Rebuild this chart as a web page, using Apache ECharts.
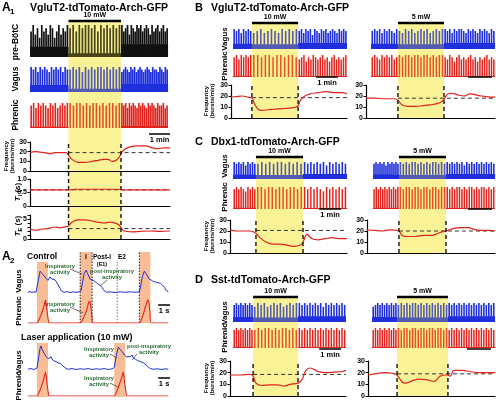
<!DOCTYPE html>
<html><head><meta charset="utf-8">
<script src="https://cdn.jsdelivr.net/npm/echarts@6/dist/echarts.min.js"></script>
<style>html,body{margin:0;padding:0;background:#fff}#c{width:496px;height:400px}</style>
</head><body><div id="c"></div>
<script>
// ================= DATA (time in minutes for A1-D, seconds for A2) =================
// ---- A1 ----
const a1Win = [0, 6.54], a1Trace = [0, 6.45], a1Laser = [1.8, 4.25], a1Scale = [5.56, 6.54];
const a1PreCtrl = [8,10,7,9,6,10,8,9,7,10,9,6,8,10,7,9,8,10];
const a1PreLaser = [9,10,8,10,9,10,10,9,10,8,10,9,10,9,10,9,10];
const a1PrePost = [10,8,9,10,7,10,9,8,10,9,10,8,9,10,9,7,10,8,9,10,8,9,10,8,9];
const a1VagCtrl = [10,9,10,8,10,9,10,9,8,10,9,10,9,10,8,10,9];
const a1VagLaser = [9,10,9,10,8,10,9,10,9,10,10,9,10,9,10,9,10];
const a1VagPost = [8,9,10,9,8,10,9,10,8,9,10,9,8,9,10,9,8,10,9,9,8,10,9,8,10,9];
const a1PhrCtrl = [9,10,8,10,9,10,9,8,10,9,10,8,9,10,9,10];
const a1PhrLaser = [10,9,10,10,9,10,9,10,10,9,10,9,10,10,9,10];
const a1PhrPost = [10,9,10,8,10,9,10,9,8,10,9,10,9,8,10,9,10,9,8,10,9,9,10,8,9];
// tonic floor level of each trace (control, laser, post), same 0-10 scale
const a1PreFloor = [3.2, 1.2, 4], a1VagFloor = [2.8, 1.3, 3.2], a1PhrFloor = [0.5, 0, 0.8];
const a1Freq = [[0,19],[0.23,20],[0.47,19.5],[0.7,19],[0.93,18],[1.17,19],[1.4,19],[1.68,19],[1.78,17],[1.96,12],[2.24,9],[2.57,9],[2.9,10],[3.18,11],[3.46,12],[3.64,12],[3.83,10],[4.02,11],[4.16,14],[4.25,18],[4.39,22],[4.67,25],[5.05,26],[5.42,26],[5.7,24],[5.98,23],[6.26,24],[6.54,24]];
const a1FreqBase = 19;
const a1Ti = [[0,0.6],[1.8,0.6],[2.1,0.62],[4.1,0.62],[4.3,0.6],[6.54,0.6]];
const a1TiBase = 0.6;
const a1Te = [[0,2.5],[0.28,2.2],[0.56,2.5],[0.84,2.6],[1.12,3.0],[1.4,2.8],[1.68,3.1],[1.78,3.2],[1.96,4.2],[2.24,4.8],[2.57,4.8],[2.9,4.5],[3.18,4.2],[3.46,4.0],[3.74,4.2],[4.02,3.9],[4.16,3.5],[4.25,2.8],[4.39,2.0],[4.77,1.8],[5.14,1.9],[5.61,2.0],[6.07,1.9],[6.54,2.0]];
const a1TeBase = 2.6;
const freqTicks = {min:0, max:30, interval:10};
const tiTicks = {min:0, max:1, interval:0.5};
const teTicks = {min:0, max:6, interval:1};

// ---- B ----
const bLWin=[0,5.27], bLTrace=[0.09,5.27], bLLaser=[0.95,3.05], bLScale=[3.86,4.86];
const bRWin=[0,5.375], bRTrace=[0.21,5.375], bRLaser=[1.33,3.25], bRScale=[4.25,5.25];
const bLVagCtrl=[10,9,10,8,10,9,10,9];
const bLVagLaser=[8,9,10,8,9,10,9,8,10,9,10,9,10];
const bLVagPost=[9,10,8,10,9,10,7,10,9,8,10,9,10,8,9,10,9,8,10,9,10,9];
const bLPhrCtrl=[9,10,8,10,9,10,9,10];
const bLPhrLaser=[10,10,9,10,10,9,10,10,9,10,10,9];
const bLPhrPost=[8,9,10,7,9,8,10,9,8,9,10,8,9,7,9,10,8,9,8,9,10];
const bRVagCtrl=[9,10,9,10,8,10,9,10,9,8,10];
const bRVagLaser=[9,8,10,9,10,8,9,10,9,10,8,9,10,9,10];
const bRVagPost=[10,9,10,8,10,9,10,10,9,8,10,9,10,9,8,10,9,10,9,8,10,9];
const bRPhrCtrl=[9,10,9,8,10,9,10,9,10,8,9];
const bRPhrLaser=[10,9,10,10,9,10,10,9,10,10,9,10,9,10,10];
const bRPhrPost=[9,8,10,9,7,9,10,8,9,8,9,10,8,9,7,9,8,9,10,8,9,8];
const bLFreq=[[0,19],[0.23,19.5],[0.5,20],[0.77,19],[0.95,18],[1.09,12],[1.23,8],[1.41,7],[1.68,7.5],[2.0,8],[2.32,8.5],[2.68,9],[2.95,10],[3.05,11],[3.18,17],[3.36,20],[3.59,22],[3.95,23],[4.32,24],[4.68,23],[5.05,23],[5.27,22]];
const bLBase=18.5;
const bRFreq=[[0,18],[0.38,18],[0.79,17.5],[1.21,17.5],[1.33,16],[1.5,12],[1.75,10.5],[2.04,10.5],[2.33,11],[2.67,12],[2.96,13],[3.17,15],[3.25,17],[3.42,22],[3.58,22.5],[3.83,21],[4.08,20],[4.33,22],[4.58,21],[4.83,20],[5.17,19],[5.375,19]];
const bRBase=18;

// ---- C ----
const cLWin=[0,5.32], cLTrace=[0.14,5.32], cLLaser=[1.18,3.32], cLScale=[4.05,5.05];
const cRWin=[0,5.33], cRTrace=[0.25,5.33], cRLaser=[1.33,3.29], cRScale=[4.21,5.21];
const cLVagCtrl=[10,9,10,9,10,8,10,9,10,9];
const cLVagLaser=[9,10,9,10,9,10,10,9,10,9,10,9];
const cLVagPost=[10,9,10,9,10,9,10,8,10,9,10,9,10,9];
const cLPhrCtrl=[9,10,9,10,9,8,10,9,10,9];
const cLPhrLaser=[10,10,9,10,10,9,10,10,9,10,10,9,10];
const cLPhrPost=[10,9,10,9,10,9,8,10,9,10,9,10,9,10];
const cRVagCtrl=[9,10,9,10,9,10,8,10,9,10,9,10,9];
const cRVagLaser=[10,9,10,9,10,10,9,10,9,10,9,10,10,9,10,9];
const cRVagPost=[10,9,10,9,10,9,10,8,10,9,10,9,10,9,10,9,10,9,10,9];
const cRPhrCtrl=[9,10,9,10,9,10,9,10,9,10,9,10];
const cRPhrLaser=[10,9,10,10,9,10,10,9,10,10,9,10,10,9,10,10];
const cRPhrPost=[10,9,10,9,10,10,9,10,9,10,10,9,10,9,10,10,9,10,9,10];
const cLFreq=[[0,21],[0.27,20],[0.64,20],[0.91,20],[1.18,18],[1.36,14],[1.64,10],[1.91,8],[2.27,8],[2.64,7],[2.91,6],[3.18,7],[3.32,10],[3.5,17],[3.73,13],[4.0,12],[4.32,13],[4.64,14],[5.0,13],[5.32,13]];
const cLBase=20.5;
const cRFreq=[[0,21],[0.33,20.5],[0.63,20],[0.96,21],[1.33,20],[1.46,16],[1.71,15],[2.0,15],[2.33,16],[2.71,16],[2.96,18],[3.17,19.5],[3.29,20],[3.54,22],[3.88,23],[4.21,23],[4.54,21],[4.88,20.5],[5.13,20.5],[5.33,20]];
const cRBase=20;

// ---- D ----
const dLWin=[0,5.27], dLTrace=[0.14,5.27], dLLaser=[1.05,3.09], dLScale=[4.05,5.05];
const dRWin=[0,5.29], dRTrace=[0.17,5.29], dRLaser=[1.21,3.33], dRScale=[4.12,5.12];
const dLVagCtrl=[9,10,9,10,9,10,9,10,9];
const dLVagLaser=[8,10,9,10,8,9,10,9,10,8,9,10,9,10];
const dLVagPost=[10,9,10,9,10,9,10,9,10,8,10,9,10,9,10,9,10,9];
const dLPhrCtrl=[9,10,9,10,9,10,9,10,9];
const dLPhrLaser=[9,10,9,10,10,9,10,9,10,10,9,10,9];
const dLPhrPost=[10,9,10,9,10,9,10,9,10,9,10,9,10,9,10,9,10,9];
const dRVagCtrl=[8,9,10,9,10,9,10,9,10,9,10];
const dRVagLaser=[9,10,9,10,9,10,10,9,10,9,10,9,10,9,10,9,10,9];
const dRVagPost=[10,9,10,9,10,9,10,9,10,9,10,9,10,9,10,9,10,9,10];
const dRPhrCtrl=[9,10,9,10,9,10,9,10,9,10,9];
const dRPhrLaser=[10,9,10,10,9,10,10,9,10,10,9,10,10,9,10,10,9,10];
const dRPhrPost=[9,10,9,10,9,10,9,10,9,10,9,10,9,10,9,10,9,10,9];
const dLFreq=[[0,18],[0.45,18],[0.91,18.5],[1.05,17],[1.18,11],[1.45,9],[1.82,9.5],[2.18,9.5],[2.45,8.5],[2.73,10],[3.09,11],[3.27,14],[3.45,22],[3.64,24],[4.0,21],[4.36,20],[4.73,20.5],[5.09,21],[5.27,22]];
const dLBase=18.5;
const dRFreq=[[0,18],[0.29,19],[0.71,20],[1.0,19.5],[1.21,18],[1.42,12],[1.58,11],[1.83,13],[2.17,14.5],[2.42,14],[2.75,12.5],[3.0,17],[3.25,18],[3.33,18],[3.42,17],[3.58,22],[3.92,22],[4.25,21],[4.58,20],[4.92,20],[5.29,20]];
const dRBase=19;
// tonic floor of vagus / phrenic traces in panels B-D (control, laser, post)
const bcdVagFloor = [2.6, 2.4, 3], bcdPhrFloor = [0.5, 0, 0.5];

// ---- A2 (seconds) ----
const a2Win=[0,12], a2Scale=[11.0,12.0];
const a2CtrlVagus=[[0,0.03],[0.17,0.06],[0.34,0.02],[0.51,0.05],[0.68,0.03],[0.76,0.1],[0.89,0.6],[1.02,0.95],[1.1,1.0],[1.19,0.85],[1.27,0.92],[1.36,0.75],[1.44,0.7],[1.53,0.64],[1.61,0.6],[1.69,0.55],[1.78,0.62],[1.86,0.7],[1.95,0.62],[2.03,0.6],[2.12,0.57],[2.2,0.6],[2.29,0.54],[2.37,0.52],[2.46,0.5],[2.54,0.36],[2.63,0.28],[2.71,0.2],[2.8,0.1],[2.88,0.05],[3.05,0.03],[3.31,0.06],[3.56,0.02],[3.81,0.05],[4.07,0.03],[4.32,0.05],[4.49,0.1],[4.62,0.5],[4.75,0.85],[4.92,1.0],[5.0,0.9],[5.08,0.8],[5.17,0.7],[5.25,0.6],[5.33,0.62],[5.42,0.58],[5.59,0.52],[5.76,0.46],[5.85,0.42],[5.93,0.38],[6.1,0.33],[6.27,0.25],[6.35,0.15],[6.44,0.08],[6.61,0.03],[6.95,0.05],[7.37,0.02],[7.8,0.05],[8.22,0.03],[8.64,0.05],[9.07,0.03],[9.41,0.05],[9.49,0.2],[9.66,0.7],[9.83,0.95],[9.92,0.9],[10.0,0.82],[10.08,0.75],[10.25,0.6],[10.42,0.56],[10.59,0.5],[10.72,0.5],[10.85,0.47],[11.02,0.45],[11.19,0.42],[11.36,0.35],[11.53,0.25],[11.69,0.1],[11.86,0.05]];
const a2CtrlPhrenic=[[0,0],[0.76,0],[0.93,0.15],[1.1,0.35],[1.27,0.6],[1.4,0.85],[1.48,1.0],[1.61,0.5],[1.74,0.05],[1.78,0],[4.41,0],[4.58,0.1],[4.75,0.3],[4.92,0.5],[5.08,0.8],[5.17,0.95],[5.25,0.9],[5.38,0.4],[5.51,0],[9.41,0],[9.58,0.15],[9.75,0.4],[9.92,0.7],[10.08,0.95],[10.17,1.0],[10.3,0.5],[10.42,0],[11.86,0]];
const a2CtrlInsp=[[0.76,1.69,0.86],[4.41,5.42,1],[9.41,10.34,1]];
const a2CtrlPhaseLines=[4.41,5.42,9.41];
const a2CtrlE1E2=7.54;
const a2LaserVagus=[[0,0.03],[0.25,0.06],[0.5,0.02],[0.76,0.08],[0.89,0.5],[1.02,0.9],[1.1,1.0],[1.19,0.85],[1.28,0.78],[1.36,0.7],[1.44,0.62],[1.53,0.56],[1.61,0.5],[1.7,0.47],[1.78,0.45],[1.86,0.5],[1.95,0.55],[2.03,0.45],[2.12,0.42],[2.2,0.38],[2.37,0.35],[2.54,0.3],[2.71,0.28],[2.88,0.2],[3.05,0.12],[3.22,0.06],[3.39,0.03],[3.73,0.06],[4.07,0.02],[4.41,0.05],[4.75,0.03],[5.08,0.06],[5.42,0.02],[5.76,0.05],[6.1,0.03],[6.44,0.06],[6.78,0.02],[7.12,0.05],[7.29,0.1],[7.46,0.6],[7.63,0.95],[7.71,1.0],[7.8,0.85],[7.97,0.75],[8.14,0.62],[8.31,0.55],[8.47,0.5],[8.64,0.55],[8.81,0.62],[8.9,0.5],[9.07,0.45],[9.24,0.4],[9.49,0.35],[9.75,0.3],[10.0,0.2],[10.17,0.12],[10.34,0.06],[10.59,0.03],[10.93,0.05],[11.27,0.02],[11.61,0.05],[11.86,0.03]];
const a2LaserPhrenic=[[0,0],[0.76,0],[0.93,0.15],[1.1,0.35],[1.27,0.6],[1.4,0.85],[1.48,1.0],[1.61,0.5],[1.74,0.05],[1.78,0],[7.29,0],[7.46,0.15],[7.63,0.35],[7.8,0.6],[7.97,0.85],[8.05,1.0],[8.18,0.5],[8.31,0.05],[8.35,0],[11.86,0]];
const a2LaserInsp=[[0.76,1.69,1],[7.29,8.22,1]];

// ================= RENDERING =================
const FONT = 'Liberation Sans';
const BLUE = '#1f2fdc', RED = '#e2231d', BLACK = '#111';
const grid=[], xAxis=[], yAxis=[], series=[], graphic=[], barLabels=[];
function addGrid(left, top, width, height, xa, ya){
  const i = grid.length;
  grid.push({left, top, width, height, containLabel:false});
  xAxis.push(Object.assign({gridIndex:i, show:false}, xa));
  yAxis.push(Object.assign({gridIndex:i, show:false}, ya));
  return i;
}
function px(col, t){ return col.x0 + (t - col.win[0]) * (col.x1 - col.x0) / (col.win[1] - col.win[0]); }

function traceRow(col, trace, laser, segs, floors, top, h, color, bw){
  const bounds = [[trace[0], laser[0]], [laser[0], laser[1]], [laser[1], trace[1]]];
  segs.forEach((amps, k) => {
    const l = px(col, bounds[k][0]), r = px(col, bounds[k][1]);
    const gi = addGrid(l, top, r - l, h,
      {type:'category', data:amps.map((_, i) => i), boundaryGap:true},
      {type:'value', min:0, max:10});
    series.push({type:'bar', xAxisIndex:gi, yAxisIndex:gi, data:amps, barWidth:bw,
      itemStyle:{color}, z:1, silent:true});
    if (floors[k] > 0) {
      series.push({type:'custom', xAxisIndex:gi, yAxisIndex:gi, z:1, silent:true,
        data:[[0, amps.length - 1, floors[k]]],
        renderItem:(p, api) => {
          const half = api.size([1, 0])[0] / 2;
          const a = api.coord([api.value(0), api.value(2)]), b = api.coord([api.value(1), 0]);
          return {type:'rect', shape:{x:a[0]-half, y:a[1], width:b[0]-a[0]+2*half, height:b[1]-a[1]}, style:{fill:color}};
        }});
    }
  });
}
function rectSeries(gi, data, fill, opacity, z){
  return {type:'custom', xAxisIndex:gi, yAxisIndex:gi, z, silent:true, data,
    renderItem:(p, api) => {
      const a = api.coord([api.value(0), api.value(2)]), b = api.coord([api.value(1), 0]);
      return {type:'rect', shape:{x:a[0], y:a[1], width:b[0]-a[0], height:b[1]-a[1]}, style:{fill, opacity}};
    }};
}
function yellow(col, laser, top, bottom){
  const gi = addGrid(col.x0, top, col.x1 - col.x0, bottom - top,
    {type:'value', min:col.win[0], max:col.win[1]}, {type:'value', min:0, max:1});
  series.push(rectSeries(gi, [[laser[0], laser[1], 1]], '#fcf8b8', 1, 0));
  series.push(rectSeries(gi, [[laser[0], laser[1], 1]], '#f0e030', 0.25, 3));
}
function vDash(col, laser, top, bottom){
  const gi = addGrid(col.x0, top, col.x1 - col.x0, bottom - top,
    {type:'value', min:col.win[0], max:col.win[1]}, {type:'value', min:0, max:1});
  laser.forEach(t => series.push({type:'line', xAxisIndex:gi, yAxisIndex:gi, data:[[t,0],[t,1]],
    symbol:'none', silent:true, z:7, lineStyle:{color:'#111', width:1.4, type:[4,3]}}));
}
function hBar(col, range, y, width, text, below, size){
  const gi = addGrid(col.x0, y - 1, col.x1 - col.x0, 2,
    {type:'value', min:col.win[0], max:col.win[1]}, {type:'value', min:0, max:1});
  series.push({type:'line', xAxisIndex:gi, yAxisIndex:gi, data:[[range[0],0.5],[range[1],0.5]], symbol:'none', z:8, silent:true,
    lineStyle:{color:'#000', width}});
  if (text) barLabels.push({gi, at:[(range[0] + range[1]) / 2, 0.5], text, below, size});
}
function plot(col, top, h, ticks, fmt, curve, base, baseFrom){
  const gi = addGrid(col.x0, top, col.x1 - col.x0, h,
    {type:'value', min:col.win[0], max:col.win[1], show:true, axisLine:{show:true, onZero:false, lineStyle:{color:'#000', width:1.2}},
     axisTick:{show:false}, axisLabel:{show:false}, splitLine:{show:false}, z:6},
    {type:'value', min:ticks.min, max:ticks.max, interval:ticks.interval, show:true,
     axisLine:{show:true, lineStyle:{color:'#000', width:1.2}}, axisTick:{show:true, length:2.5, lineStyle:{width:1}},
     axisLabel:{fontSize:7, fontWeight:'bold', fontFamily:FONT, color:'#000', margin:3, formatter:fmt}, splitLine:{show:false}, z:6});
  series.push({type:'line', xAxisIndex:gi, yAxisIndex:gi, data:[[baseFrom, base],[col.win[1], base]], symbol:'none', silent:true, z:5,
    lineStyle:{color:'#333', width:1, type:[4,3]}});
  series.push({type:'line', xAxisIndex:gi, yAxisIndex:gi, data:curve, smooth:0.35, symbol:'none', silent:true, z:6,
    lineStyle:{color:RED, width:1.2}});
}
function txt(x, y, text, o){
  o = o || {};
  graphic.push({type:'text', x, y, rotation:o.rot||0, z:100, silent:true,
    style:{text, fill:o.color||'#000', fontSize:o.size||8, fontWeight:o.w||'bold', fontFamily:FONT,
      align:o.align||'left', verticalAlign:o.va||'top', lineHeight:o.lh, rich:o.rich}});
}
function rtxt(cx, cy, text, size, rich){ txt(cx, cy, text, {rot:Math.PI/2, align:'center', va:'middle', size, rich}); }
function gline(x1,y1,x2,y2){ graphic.push({type:'line', z:100, silent:true, shape:{x1,y1,x2,y2}, style:{stroke:'#333', lineWidth:0.7}}); }

const fFmt = v => String(v);
// ---------- A1 ----------
const A1 = {x0:30, x1:170, win:a1Win};
yellow(A1, a1Laser, 22, 240);
traceRow(A1, a1Trace, a1Laser, [a1PreCtrl, a1PreLaser, a1PrePost], a1PreFloor, 25, 32, BLACK, 1.7);
traceRow(A1, a1Trace, a1Laser, [a1VagCtrl, a1VagLaser, a1VagPost], a1VagFloor, 67, 25, BLUE, 1.7);
traceRow(A1, a1Trace, a1Laser, [a1PhrCtrl, a1PhrLaser, a1PhrPost], a1PhrFloor, 103, 25, RED, 1.6);
hBar(A1, a1Laser, 21, 2.5, '10 mW', false, 7);
hBar(A1, a1Scale, 134, 1.5, '1 min', true, 7.5);
plot(A1, 142, 29, freqTicks, fFmt, a1Freq, a1FreqBase, a1Laser[0]);
plot(A1, 179, 27, tiTicks, v => v === 1 ? '1.0' : String(v), a1Ti, a1TiBase, 0);
plot(A1, 215, 24, teTicks, v => (v === 0 || v === 5) ? String(v) : '', a1Te, a1TeBase, a1Laser[0]);
vDash(A1, a1Laser, 141, 239);

// ---------- B, C, D ----------
function panel(col, trace, laser, scale, mw, segs, freq, base, y){
  yellow(col, laser, y.yt, y.yb);
  traceRow(col, trace, laser, segs[0], bcdVagFloor, y.vt, y.vh, BLUE, 1.6);
  traceRow(col, trace, laser, segs[1], bcdPhrFloor, y.pt, y.ph, RED, 1.5);
  hBar(col, laser, y.lb, 2.5, mw, false, 7);
  hBar(col, scale, y.sb, 1.5, col.scaleText, true, 7.5);
  plot(col, y.ft, y.fh, freqTicks, fFmt, freq, base, laser[0]);
  vDash(col, laser, y.ft, y.ft + y.fh);
}
const yB = {yt:24, yb:118, vt:29, vh:20, pt:55, ph:22, lb:23, sb:77, ft:85, fh:33};
const yC = {yt:158, yb:253, vt:162, vh:17, pt:187, ph:22, lb:157, sb:209, ft:220, fh:33};
const yD = {yt:298, yb:396, vt:303, vh:19, pt:328, ph:20, lb:297, sb:349, ft:361, fh:35};
panel({x0:231, x1:347, win:bLWin, scaleText:'1 min'}, bLTrace, bLLaser, bLScale, '10 mW',
  [[bLVagCtrl,bLVagLaser,bLVagPost],[bLPhrCtrl,bLPhrLaser,bLPhrPost]], bLFreq, bLBase, yB);
panel({x0:366, x1:495, win:bRWin, scaleText:''}, bRTrace, bRLaser, bRScale, '5 mW',
  [[bRVagCtrl,bRVagLaser,bRVagPost],[bRPhrCtrl,bRPhrLaser,bRPhrPost]], bRFreq, bRBase, yB);
panel({x0:230, x1:347, win:cLWin, scaleText:'1 min'}, cLTrace, cLLaser, cLScale, '10 mW',
  [[cLVagCtrl,cLVagLaser,cLVagPost],[cLPhrCtrl,cLPhrLaser,cLPhrPost]], cLFreq, cLBase, yC);
panel({x0:367, x1:495, win:cRWin, scaleText:''}, cRTrace, cRLaser, cRScale, '5 mW',
  [[cRVagCtrl,cRVagLaser,cRVagPost],[cRPhrCtrl,cRPhrLaser,cRPhrPost]], cRFreq, cRBase, yC);
panel({x0:230, x1:346, win:dLWin, scaleText:'1 min'}, dLTrace, dLLaser, dLScale, '10 mW',
  [[dLVagCtrl,dLVagLaser,dLVagPost],[dLPhrCtrl,dLPhrLaser,dLPhrPost]], dLFreq, dLBase, yD);
panel({x0:368, x1:495, win:dRWin, scaleText:''}, dRTrace, dRLaser, dRScale, '5 mW',
  [[dRVagCtrl,dRVagLaser,dRVagPost],[dRPhrCtrl,dRPhrLaser,dRPhrPost]], dRFreq, dRBase, yD);

// ---------- A2 ----------
const A2 = {x0:28, x1:170, win:a2Win};
function a2Grid(top, h, ymax){ return addGrid(A2.x0, top, A2.x1 - A2.x0, h, {type:'value', min:a2Win[0], max:a2Win[1]}, {type:'value', min:0, max:ymax}); }
let g = a2Grid(252, 71, 1);
series.push(rectSeries(g, a2CtrlInsp, '#f8bd95', 1, 0));
a2CtrlPhaseLines.forEach(t => series.push({type:'line', xAxisIndex:g, yAxisIndex:g, data:[[t,0],[t,1]], symbol:'none', silent:true, z:3, lineStyle:{color:'#222', width:1, type:[1.5,1.5]}}));
series.push({type:'line', xAxisIndex:g, yAxisIndex:g, data:[[a2CtrlE1E2,0],[a2CtrlE1E2,0.86]], symbol:'none', silent:true, z:3, lineStyle:{color:'#777', width:1, type:[1.5,1.5]}});
g = a2Grid(268, 25, 1.09);
series.push({type:'line', xAxisIndex:g, yAxisIndex:g, data:a2CtrlVagus, symbol:'none', silent:true, z:4, lineStyle:{color:BLUE, width:1}});
g = a2Grid(298, 25, 1.09);
series.push({type:'line', xAxisIndex:g, yAxisIndex:g, data:a2CtrlPhrenic, symbol:'none', smooth:0.2, silent:true, z:4, lineStyle:{color:RED, width:1.1}});
g = a2Grid(343, 54, 1);
series.push(rectSeries(g, a2LaserInsp, '#f8bd95', 1, 0));
g = a2Grid(344, 26, 1.08);
series.push({type:'line', xAxisIndex:g, yAxisIndex:g, data:a2LaserVagus, symbol:'none', silent:true, z:4, lineStyle:{color:BLUE, width:1}});
g = a2Grid(370, 26, 1.08);
series.push({type:'line', xAxisIndex:g, yAxisIndex:g, data:a2LaserPhrenic, symbol:'none', smooth:0.2, silent:true, z:4, lineStyle:{color:RED, width:1.1}});
hBar(A2, a2Scale, 305, 1.5, '1 s', true, 7.5);
hBar(A2, a2Scale, 378, 1.5, '1 s', true, 7.5);

// ---------- TEXT ----------
txt(2, 2, 'A', {size:12}); txt(10, 8, '1', {size:8}); txt(30, 3, 'VgluT2-tdTomato-Arch-GFP', {size:10.5});
txt(195, 2, 'B', {size:11}); txt(211, 3, 'VgluT2-tdTomato-Arch-GFP', {size:10.5});
txt(195, 136, 'C', {size:11}); txt(211, 137, 'Dbx1-tdTomato-Arch-GFP', {size:10.5});
txt(195, 274, 'D', {size:11}); txt(211, 275, 'Sst-tdTomato-Arch-GFP', {size:10.5});
rtxt(16, 42, 'pre-BötC', 8.5); rtxt(16, 79, 'Vagus', 8.5); rtxt(16, 115, 'Phrenic', 8.5);
rtxt(6, 156, 'Frequency', 6); rtxt(12, 156, '(bursts/min)', 6);
const subRich = {
  t:{fontSize:8, fontWeight:'bold', fontStyle:'italic', fontFamily:FONT, lineHeight:11, verticalAlign:'middle'},
  s:{fontSize:5.5, fontWeight:'bold', fontFamily:FONT, lineHeight:11, verticalAlign:'bottom'},
  n:{fontSize:8, fontWeight:'bold', fontFamily:FONT, lineHeight:11, verticalAlign:'middle'}};
rtxt(18, 192, '{t|T}{s|I}{n| (s)}', 8, subRich);
rtxt(18, 226, '{t|T}{s|E}{n| (s)}', 8, subRich);
[[39,66,101],[166,197,236],[313,338,378]].forEach(([v,p,f]) => {
  rtxt(225, v, 'Vagus', 8); rtxt(225, p, 'Phrenic', 8);
  rtxt(206, f, 'Frequency', 6); rtxt(212, f, '(bursts/min)', 6);
});
txt(2, 251, 'A', {size:12}); txt(10, 257, '2', {size:8}); txt(27, 252, 'Control', {size:8.5});
txt(21, 333, 'Laser application (10 mW)', {size:9});
rtxt(19, 281, 'Vagus', 8); rtxt(19, 311, 'Phrenic', 8);
rtxt(19, 362, 'Vagus', 8); rtxt(19, 386, 'Phrenic', 8);
txt(86, 254, 'I', {size:6.5, align:'center'}); txt(102, 254, 'Post-I', {size:6.5, align:'center'});
txt(102, 261, '(E1)', {size:5.5, align:'center'}); txt(122, 254, 'E2', {size:6.5, align:'center'});
const G = '#2b6a33';
const gt = (x, y, s) => txt(x, y, s, {size:5.8, color:G, align:'center', lh:6.5});
gt(60, 263, 'Inspiratory\nactivity'); gt(112, 268, 'post-inspiratory\nactivity'); gt(60, 301, 'Inspiratory\nactivity');
gt(99, 346, 'Inspiratory\nactivity'); gt(149, 343, 'post-inspiratory\nactivity'); gt(99, 375, 'Inspiratory\nactivity');
gline(70,269,82,274); gline(107,280,100,286); gline(70,307,83,313);
gline(110,354,117,358); gline(137,354,132,360); gline(110,383,118,387);

const chart = echarts.init(document.getElementById('c'), null, {renderer:'canvas'});
chart.setOption({animation:false, backgroundColor:'#fff', grid, xAxis, yAxis, series, graphic});
// labels of laser / scale bars placed through the bars' own axes
barLabels.forEach(b => {
  const p = chart.convertToPixel({gridIndex:b.gi}, b.at);
  txt(p[0], b.below ? p[1] + 2 : p[1] - 2, b.text, {size:b.size, align:'center', va:b.below ? 'top' : 'bottom'});
});
chart.setOption({graphic});
</script></body></html>
